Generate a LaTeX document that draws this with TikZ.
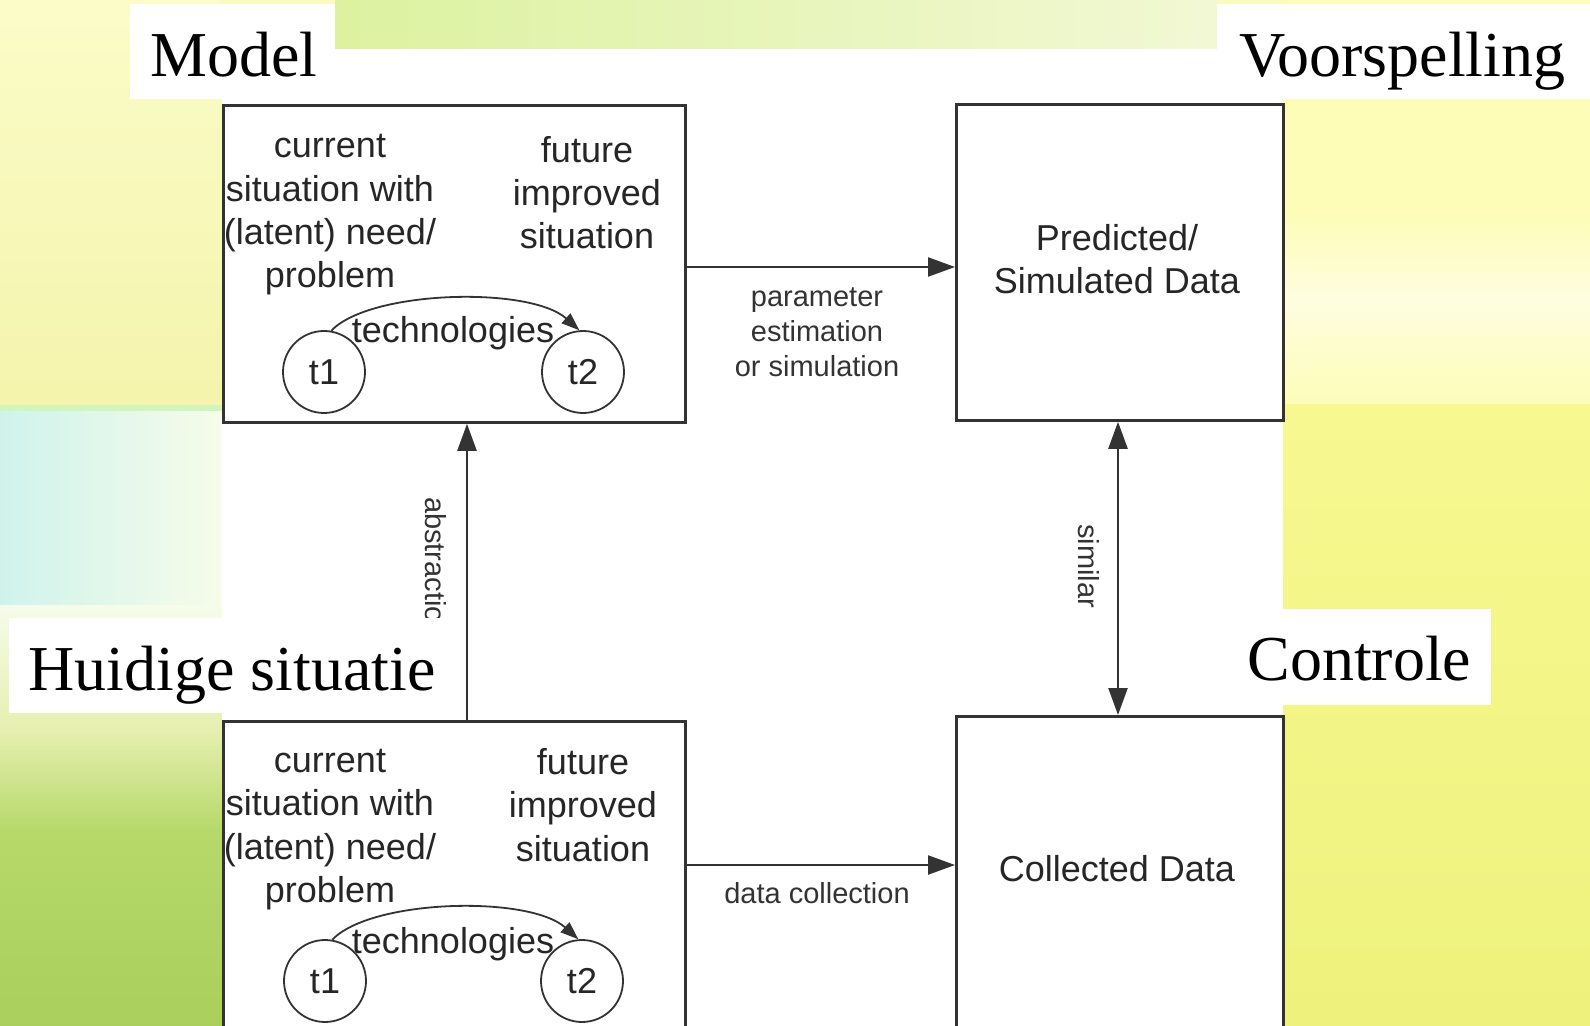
\documentclass[tikz,border=0pt]{standalone}
\usepackage{fontspec}
\setmainfont{Liberation Serif}
\setsansfont{Liberation Sans}
\usetikzlibrary{arrows.meta,calc}
\definecolor{bgY}{HTML}{FAFBBE}
\definecolor{bgYtop}{HTML}{FBFCC8}
\definecolor{bgYlow}{HTML}{F4F4AC}
\definecolor{stripL}{HTML}{DCF2A0}
\definecolor{stripR}{HTML}{F2F8D4}
\definecolor{cyanL}{HTML}{CFF3EC}
\definecolor{cyanR}{HTML}{F6FCEA}
\definecolor{grnA}{HTML}{E6EFB0}
\definecolor{grnB}{HTML}{B6D96A}
\definecolor{grnC}{HTML}{AACF5C}
\definecolor{rYtop}{HTML}{FDFDB8}
\definecolor{rWhite}{HTML}{FEFDE0}
\definecolor{rY1}{HTML}{F7F890}
\definecolor{rY2}{HTML}{EEF27C}
\definecolor{lineC}{HTML}{333333}
\definecolor{streak}{HTML}{D2F5BC}
\begin{document}
\begin{tikzpicture}[x=0.5pt,y=-0.5pt,
  box/.style={draw=lineC,line width=1.4pt,fill=white,inner sep=0,anchor=north west},
  boxtxt/.style={font=\sffamily\fontsize{18}{21.65}\selectfont,align=center,inner sep=0,text=black!85},
  lbl/.style={font=\sffamily\fontsize{14.5}{17.5}\selectfont,align=center,inner sep=0,text=black!80},
  circ/.style={circle,draw=lineC,line width=0.9pt,minimum size=41pt,inner sep=0,font=\sffamily\fontsize{18}{21.65}\selectfont,text=black!85},
  conn/.style={draw=lineC,line width=1.2pt},
  tip/.style={-{Triangle[length=13.5pt,width=9.5pt]}},
  tiptwo/.style={{Triangle[length=13.5pt,width=9.5pt]}-{Triangle[length=13.5pt,width=9.5pt]}},
  techarrow/.style={draw=lineC,line width=0.9pt,-{Triangle[length=9pt,width=6.5pt]}},
  title/.style={font=\fontsize{32}{38}\selectfont,inner sep=0,anchor=base west,text=black}]
\clip (0,0) rectangle (1590,1026);
% ---------- slide background ----------
\fill[bgY] (0,0) rectangle (1590,1026);
\shade[left color=stripL,right color=stripR] (335,0) rectangle (1217,49);
\shade[top color=bgYtop,bottom color=bgYlow] (0,0) rectangle (222,405);
\fill[streak] (0,405) rectangle (222,412);
\shade[left color=cyanL,right color=cyanR] (0,412) rectangle (222,605);
\shade[top color=cyanR,bottom color=grnA] (0,605) rectangle (222,730);
\shade[top color=grnA,bottom color=grnB] (0,730) rectangle (222,830);
\shade[top color=grnB,bottom color=grnC] (0,830) rectangle (222,1026);
\fill[rYtop] (1283,0) rectangle (1590,215);
\shade[top color=rYtop,bottom color=rWhite] (1283,215) rectangle (1590,300);
\shade[top color=rWhite,bottom color=rYtop] (1283,300) rectangle (1590,405);
\shade[top color=rY1,bottom color=rY2] (1283,405) rectangle (1590,1026);
% ---------- white diagram area ----------
\fill[white] (222,49) rectangle (1283,1026);
% ---------- boxes ----------
\node[box,minimum width=231pt,minimum height=158.5pt] (A) at (222,104) {};
\node[box,minimum width=163.5pt,minimum height=157.75pt] (B) at (955,103.5) {};
\node[box,minimum width=231pt,minimum height=175pt] (C) at (222,720) {};
\node[box,minimum width=163.5pt,minimum height=180pt] (D) at (955,715) {};
% top-left content
\node[boxtxt] (Acur) at (330,215) {current\\situation with\\(latent) need/\\problem};
\node[boxtxt] (Afut) at (587,192.5) {future\\improved\\situation};
\node[circ] (At1) at (324,372) {t1};
\node[circ] (At2) at (583,372) {t2};
\draw[techarrow] (At1.80) .. controls ($(At1)+(46,-82)$) and ($(At2)+(-53,-86)$) .. (At2.95);
\node[boxtxt] (Atech) at (453,333) {technologies};
% bottom-left content
\node[boxtxt] (Ccur) at (330,829.5) {current\\situation with\\(latent) need/\\problem};
\node[boxtxt] (Cfut) at (583,805) {future\\improved\\situation};
\node[circ] (Ct1) at (325,981) {t1};
\node[circ] (Ct2) at (582,981) {t2};
\draw[techarrow] (Ct1.80) .. controls ($(Ct1)+(46,-82)$) and ($(Ct2)+(-53,-86)$) .. (Ct2.95);
\node[boxtxt] (Ctech) at (453,944) {technologies};
% right boxes content
\node[boxtxt] (Btxt) at (1117,259) {Predicted/\\Simulated Data};
\node[boxtxt] (Dtxt) at (1117,869) {Collected Data};
% ---------- connectors ----------
\coordinate (ytop) at (0,267);
\coordinate (ybot) at (0,865);
\coordinate (xabs) at (467,0);
\coordinate (xsim) at (1118,0);
\draw[conn,tip] (A.east |- ytop) -- (B.west |- ytop);
\node[lbl] (lpar) at (817,332.5) {parameter\\estimation\\or simulation};
\draw[conn,tip] (C.east |- ybot) -- (D.west |- ybot);
\node[lbl] (ldc) at (817,893) {data collection};
\draw[conn,tip] (C.north -| xabs) -- (A.south -| xabs);
\node[lbl,rotate=-90] (labs) at (436,568) {abstraction};
\draw[conn,tiptwo] (B.south -| xsim) -- (D.north -| xsim);
\node[lbl,rotate=-90] (lsim) at (1089,566) {similar};
% ---------- slide titles ----------
\fill[white] (130,4) rectangle (335,99);
\fill[white] (1217,4) rectangle (1590,99);
\fill[white] (9,618) rectangle (455,713);
\fill[white] (1240,609) rectangle (1491,705);
\node[title] (tModel) at (150,77) {Model};
\node[title] (tVoor) at (1239,77) {Voorspelling};
\node[title] (tHuid) at (28,690) {Huidige situatie};
\node[title] (tCont) at (1247,680) {Controle};
\end{tikzpicture}
\end{document}
